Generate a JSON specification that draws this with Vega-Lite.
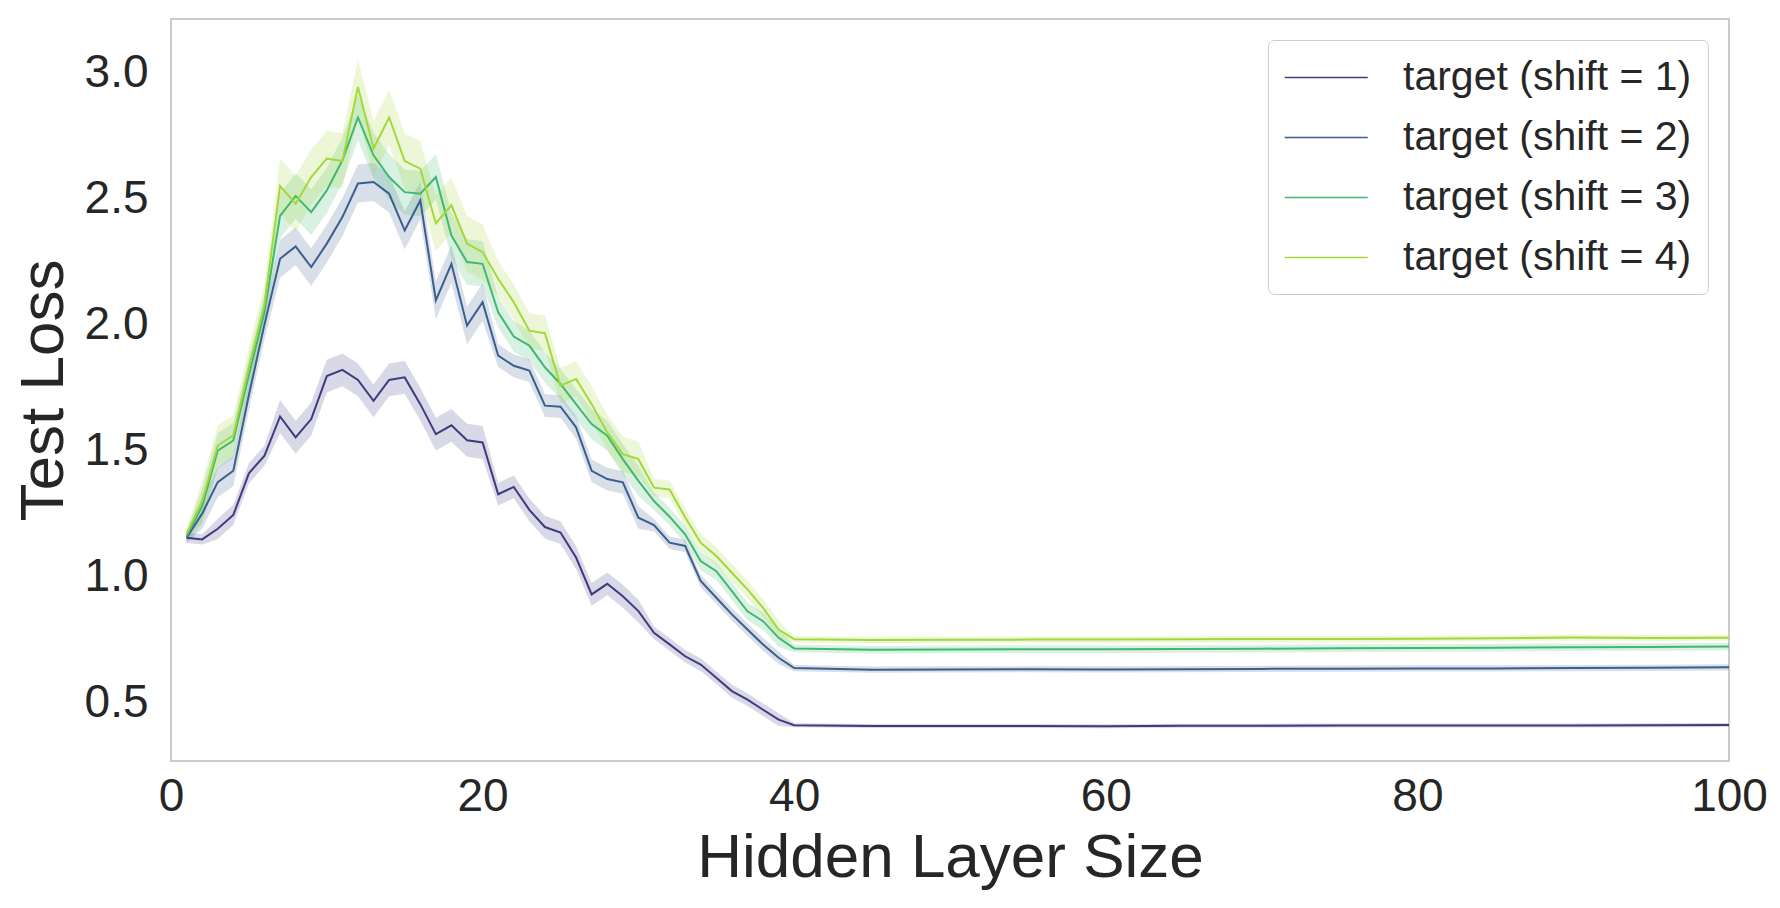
{
  "$schema": "https://vega.github.io/schema/vega-lite/v6.json",
  "width": 1558,
  "height": 742,
  "autosize": {"type": "none"},
  "padding": {"left": 171, "top": 19, "right": 51, "bottom": 147},
  "background": "#ffffff",
  "config": {
    "view": {"stroke": "#cccccc", "strokeWidth": 2},
    "axis": {
      "grid": false, "domain": false, "ticks": false, "labelFlush": false,
      "labelFont": "Liberation Sans", "titleFont": "Liberation Sans",
      "labelColor": "#262626", "titleColor": "#262626",
      "labelFontSize": 46, "titleFontSize": 62, "titleFontWeight": "normal"
    }
  },
  "data": {"values": [
    {"size": 1, "series": "target (shift = 1)", "loss": 1.155, "lo": 1.135, "hi": 1.175},
    {"size": 2, "series": "target (shift = 1)", "loss": 1.148, "lo": 1.128, "hi": 1.168},
    {"size": 3, "series": "target (shift = 1)", "loss": 1.19, "lo": 1.15, "hi": 1.23},
    {"size": 4, "series": "target (shift = 1)", "loss": 1.245, "lo": 1.205, "hi": 1.285},
    {"size": 5, "series": "target (shift = 1)", "loss": 1.41, "lo": 1.37, "hi": 1.45},
    {"size": 6, "series": "target (shift = 1)", "loss": 1.48, "lo": 1.44, "hi": 1.52},
    {"size": 7, "series": "target (shift = 1)", "loss": 1.635, "lo": 1.57, "hi": 1.70},
    {"size": 8, "series": "target (shift = 1)", "loss": 1.552, "lo": 1.487, "hi": 1.617},
    {"size": 9, "series": "target (shift = 1)", "loss": 1.625, "lo": 1.56, "hi": 1.69},
    {"size": 10, "series": "target (shift = 1)", "loss": 1.795, "lo": 1.73, "hi": 1.86},
    {"size": 11, "series": "target (shift = 1)", "loss": 1.82, "lo": 1.755, "hi": 1.885},
    {"size": 12, "series": "target (shift = 1)", "loss": 1.78, "lo": 1.715, "hi": 1.845},
    {"size": 13, "series": "target (shift = 1)", "loss": 1.697, "lo": 1.632, "hi": 1.762},
    {"size": 14, "series": "target (shift = 1)", "loss": 1.78, "lo": 1.715, "hi": 1.845},
    {"size": 15, "series": "target (shift = 1)", "loss": 1.79, "lo": 1.725, "hi": 1.855},
    {"size": 16, "series": "target (shift = 1)", "loss": 1.684, "lo": 1.619, "hi": 1.749},
    {"size": 17, "series": "target (shift = 1)", "loss": 1.565, "lo": 1.50, "hi": 1.63},
    {"size": 18, "series": "target (shift = 1)", "loss": 1.60, "lo": 1.535, "hi": 1.665},
    {"size": 19, "series": "target (shift = 1)", "loss": 1.541, "lo": 1.476, "hi": 1.606},
    {"size": 20, "series": "target (shift = 1)", "loss": 1.532, "lo": 1.467, "hi": 1.597},
    {"size": 21, "series": "target (shift = 1)", "loss": 1.327, "lo": 1.282, "hi": 1.372},
    {"size": 22, "series": "target (shift = 1)", "loss": 1.356, "lo": 1.311, "hi": 1.401},
    {"size": 23, "series": "target (shift = 1)", "loss": 1.265, "lo": 1.22, "hi": 1.31},
    {"size": 24, "series": "target (shift = 1)", "loss": 1.197, "lo": 1.152, "hi": 1.242},
    {"size": 25, "series": "target (shift = 1)", "loss": 1.175, "lo": 1.13, "hi": 1.22},
    {"size": 26, "series": "target (shift = 1)", "loss": 1.076, "lo": 1.031, "hi": 1.121},
    {"size": 27, "series": "target (shift = 1)", "loss": 0.93, "lo": 0.885, "hi": 0.975},
    {"size": 28, "series": "target (shift = 1)", "loss": 0.972, "lo": 0.927, "hi": 1.017},
    {"size": 29, "series": "target (shift = 1)", "loss": 0.923, "lo": 0.878, "hi": 0.968},
    {"size": 30, "series": "target (shift = 1)", "loss": 0.864, "lo": 0.819, "hi": 0.909},
    {"size": 31, "series": "target (shift = 1)", "loss": 0.778, "lo": 0.753, "hi": 0.803},
    {"size": 32, "series": "target (shift = 1)", "loss": 0.732, "lo": 0.707, "hi": 0.757},
    {"size": 33, "series": "target (shift = 1)", "loss": 0.685, "lo": 0.66, "hi": 0.71},
    {"size": 34, "series": "target (shift = 1)", "loss": 0.652, "lo": 0.627, "hi": 0.677},
    {"size": 35, "series": "target (shift = 1)", "loss": 0.60, "lo": 0.575, "hi": 0.625},
    {"size": 36, "series": "target (shift = 1)", "loss": 0.547, "lo": 0.522, "hi": 0.572},
    {"size": 37, "series": "target (shift = 1)", "loss": 0.513, "lo": 0.488, "hi": 0.538},
    {"size": 38, "series": "target (shift = 1)", "loss": 0.473, "lo": 0.448, "hi": 0.498},
    {"size": 39, "series": "target (shift = 1)", "loss": 0.434, "lo": 0.409, "hi": 0.459},
    {"size": 40, "series": "target (shift = 1)", "loss": 0.412, "lo": 0.404, "hi": 0.42},
    {"size": 45, "series": "target (shift = 1)", "loss": 0.409, "lo": 0.401, "hi": 0.417},
    {"size": 50, "series": "target (shift = 1)", "loss": 0.409, "lo": 0.401, "hi": 0.417},
    {"size": 55, "series": "target (shift = 1)", "loss": 0.409, "lo": 0.401, "hi": 0.417},
    {"size": 60, "series": "target (shift = 1)", "loss": 0.408, "lo": 0.400, "hi": 0.416},
    {"size": 65, "series": "target (shift = 1)", "loss": 0.410, "lo": 0.402, "hi": 0.418},
    {"size": 70, "series": "target (shift = 1)", "loss": 0.410, "lo": 0.402, "hi": 0.418},
    {"size": 75, "series": "target (shift = 1)", "loss": 0.411, "lo": 0.403, "hi": 0.419},
    {"size": 80, "series": "target (shift = 1)", "loss": 0.411, "lo": 0.403, "hi": 0.419},
    {"size": 85, "series": "target (shift = 1)", "loss": 0.411, "lo": 0.403, "hi": 0.419},
    {"size": 90, "series": "target (shift = 1)", "loss": 0.411, "lo": 0.403, "hi": 0.419},
    {"size": 95, "series": "target (shift = 1)", "loss": 0.412, "lo": 0.404, "hi": 0.420},
    {"size": 100, "series": "target (shift = 1)", "loss": 0.413, "lo": 0.405, "hi": 0.421},

    {"size": 1, "series": "target (shift = 2)", "loss": 1.155, "lo": 1.135, "hi": 1.175},
    {"size": 2, "series": "target (shift = 2)", "loss": 1.25, "lo": 1.19, "hi": 1.31},
    {"size": 3, "series": "target (shift = 2)", "loss": 1.375, "lo": 1.315, "hi": 1.435},
    {"size": 4, "series": "target (shift = 2)", "loss": 1.42, "lo": 1.36, "hi": 1.48},
    {"size": 5, "series": "target (shift = 2)", "loss": 1.72, "lo": 1.66, "hi": 1.78},
    {"size": 6, "series": "target (shift = 2)", "loss": 2.0, "lo": 1.94, "hi": 2.06},
    {"size": 7, "series": "target (shift = 2)", "loss": 2.26, "lo": 2.185, "hi": 2.335},
    {"size": 8, "series": "target (shift = 2)", "loss": 2.309, "lo": 2.234, "hi": 2.384},
    {"size": 9, "series": "target (shift = 2)", "loss": 2.227, "lo": 2.152, "hi": 2.302},
    {"size": 10, "series": "target (shift = 2)", "loss": 2.32, "lo": 2.245, "hi": 2.395},
    {"size": 11, "series": "target (shift = 2)", "loss": 2.425, "lo": 2.35, "hi": 2.50},
    {"size": 12, "series": "target (shift = 2)", "loss": 2.558, "lo": 2.483, "hi": 2.633},
    {"size": 13, "series": "target (shift = 2)", "loss": 2.564, "lo": 2.489, "hi": 2.639},
    {"size": 14, "series": "target (shift = 2)", "loss": 2.518, "lo": 2.443, "hi": 2.593},
    {"size": 15, "series": "target (shift = 2)", "loss": 2.372, "lo": 2.297, "hi": 2.447},
    {"size": 16, "series": "target (shift = 2)", "loss": 2.491, "lo": 2.416, "hi": 2.566},
    {"size": 17, "series": "target (shift = 2)", "loss": 2.095, "lo": 2.02, "hi": 2.17},
    {"size": 18, "series": "target (shift = 2)", "loss": 2.24, "lo": 2.165, "hi": 2.315},
    {"size": 19, "series": "target (shift = 2)", "loss": 1.995, "lo": 1.92, "hi": 2.07},
    {"size": 20, "series": "target (shift = 2)", "loss": 2.088, "lo": 2.013, "hi": 2.163},
    {"size": 21, "series": "target (shift = 2)", "loss": 1.876, "lo": 1.831, "hi": 1.921},
    {"size": 22, "series": "target (shift = 2)", "loss": 1.836, "lo": 1.791, "hi": 1.881},
    {"size": 23, "series": "target (shift = 2)", "loss": 1.817, "lo": 1.772, "hi": 1.862},
    {"size": 24, "series": "target (shift = 2)", "loss": 1.678, "lo": 1.633, "hi": 1.723},
    {"size": 25, "series": "target (shift = 2)", "loss": 1.674, "lo": 1.629, "hi": 1.719},
    {"size": 26, "series": "target (shift = 2)", "loss": 1.592, "lo": 1.547, "hi": 1.637},
    {"size": 27, "series": "target (shift = 2)", "loss": 1.42, "lo": 1.375, "hi": 1.465},
    {"size": 28, "series": "target (shift = 2)", "loss": 1.387, "lo": 1.342, "hi": 1.432},
    {"size": 29, "series": "target (shift = 2)", "loss": 1.374, "lo": 1.329, "hi": 1.419},
    {"size": 30, "series": "target (shift = 2)", "loss": 1.234, "lo": 1.189, "hi": 1.279},
    {"size": 31, "series": "target (shift = 2)", "loss": 1.205, "lo": 1.18, "hi": 1.23},
    {"size": 32, "series": "target (shift = 2)", "loss": 1.135, "lo": 1.11, "hi": 1.16},
    {"size": 33, "series": "target (shift = 2)", "loss": 1.122, "lo": 1.097, "hi": 1.147},
    {"size": 34, "series": "target (shift = 2)", "loss": 0.983, "lo": 0.958, "hi": 1.008},
    {"size": 35, "series": "target (shift = 2)", "loss": 0.917, "lo": 0.892, "hi": 0.942},
    {"size": 36, "series": "target (shift = 2)", "loss": 0.851, "lo": 0.826, "hi": 0.876},
    {"size": 37, "series": "target (shift = 2)", "loss": 0.791, "lo": 0.766, "hi": 0.816},
    {"size": 38, "series": "target (shift = 2)", "loss": 0.732, "lo": 0.707, "hi": 0.757},
    {"size": 39, "series": "target (shift = 2)", "loss": 0.679, "lo": 0.654, "hi": 0.704},
    {"size": 40, "series": "target (shift = 2)", "loss": 0.638, "lo": 0.626, "hi": 0.65},
    {"size": 45, "series": "target (shift = 2)", "loss": 0.632, "lo": 0.62, "hi": 0.644},
    {"size": 50, "series": "target (shift = 2)", "loss": 0.633, "lo": 0.621, "hi": 0.645},
    {"size": 55, "series": "target (shift = 2)", "loss": 0.634, "lo": 0.622, "hi": 0.646},
    {"size": 60, "series": "target (shift = 2)", "loss": 0.633, "lo": 0.621, "hi": 0.645},
    {"size": 65, "series": "target (shift = 2)", "loss": 0.634, "lo": 0.622, "hi": 0.646},
    {"size": 70, "series": "target (shift = 2)", "loss": 0.635, "lo": 0.623, "hi": 0.647},
    {"size": 75, "series": "target (shift = 2)", "loss": 0.636, "lo": 0.624, "hi": 0.648},
    {"size": 80, "series": "target (shift = 2)", "loss": 0.637, "lo": 0.625, "hi": 0.649},
    {"size": 85, "series": "target (shift = 2)", "loss": 0.637, "lo": 0.625, "hi": 0.649},
    {"size": 90, "series": "target (shift = 2)", "loss": 0.638, "lo": 0.626, "hi": 0.65},
    {"size": 95, "series": "target (shift = 2)", "loss": 0.639, "lo": 0.627, "hi": 0.651},
    {"size": 100, "series": "target (shift = 2)", "loss": 0.641, "lo": 0.629, "hi": 0.653},

    {"size": 1, "series": "target (shift = 3)", "loss": 1.16, "lo": 1.14, "hi": 1.18},
    {"size": 2, "series": "target (shift = 3)", "loss": 1.28, "lo": 1.21, "hi": 1.35},
    {"size": 3, "series": "target (shift = 3)", "loss": 1.50, "lo": 1.43, "hi": 1.57},
    {"size": 4, "series": "target (shift = 3)", "loss": 1.54, "lo": 1.47, "hi": 1.61},
    {"size": 5, "series": "target (shift = 3)", "loss": 1.80, "lo": 1.73, "hi": 1.87},
    {"size": 6, "series": "target (shift = 3)", "loss": 2.05, "lo": 1.98, "hi": 2.12},
    {"size": 7, "series": "target (shift = 3)", "loss": 2.43, "lo": 2.34, "hi": 2.52},
    {"size": 8, "series": "target (shift = 3)", "loss": 2.509, "lo": 2.419, "hi": 2.599},
    {"size": 9, "series": "target (shift = 3)", "loss": 2.445, "lo": 2.355, "hi": 2.535},
    {"size": 10, "series": "target (shift = 3)", "loss": 2.531, "lo": 2.441, "hi": 2.621},
    {"size": 11, "series": "target (shift = 3)", "loss": 2.65, "lo": 2.56, "hi": 2.74},
    {"size": 12, "series": "target (shift = 3)", "loss": 2.82, "lo": 2.73, "hi": 2.91},
    {"size": 13, "series": "target (shift = 3)", "loss": 2.67, "lo": 2.58, "hi": 2.76},
    {"size": 14, "series": "target (shift = 3)", "loss": 2.584, "lo": 2.494, "hi": 2.674},
    {"size": 15, "series": "target (shift = 3)", "loss": 2.524, "lo": 2.434, "hi": 2.614},
    {"size": 16, "series": "target (shift = 3)", "loss": 2.518, "lo": 2.428, "hi": 2.608},
    {"size": 17, "series": "target (shift = 3)", "loss": 2.584, "lo": 2.494, "hi": 2.674},
    {"size": 18, "series": "target (shift = 3)", "loss": 2.352, "lo": 2.262, "hi": 2.442},
    {"size": 19, "series": "target (shift = 3)", "loss": 2.247, "lo": 2.157, "hi": 2.337},
    {"size": 20, "series": "target (shift = 3)", "loss": 2.24, "lo": 2.15, "hi": 2.33},
    {"size": 21, "series": "target (shift = 3)", "loss": 2.048, "lo": 1.988, "hi": 2.108},
    {"size": 22, "series": "target (shift = 3)", "loss": 1.952, "lo": 1.892, "hi": 2.012},
    {"size": 23, "series": "target (shift = 3)", "loss": 1.916, "lo": 1.856, "hi": 1.976},
    {"size": 24, "series": "target (shift = 3)", "loss": 1.83, "lo": 1.77, "hi": 1.89},
    {"size": 25, "series": "target (shift = 3)", "loss": 1.764, "lo": 1.704, "hi": 1.824},
    {"size": 26, "series": "target (shift = 3)", "loss": 1.684, "lo": 1.624, "hi": 1.744},
    {"size": 27, "series": "target (shift = 3)", "loss": 1.605, "lo": 1.545, "hi": 1.665},
    {"size": 28, "series": "target (shift = 3)", "loss": 1.559, "lo": 1.499, "hi": 1.619},
    {"size": 29, "series": "target (shift = 3)", "loss": 1.466, "lo": 1.406, "hi": 1.526},
    {"size": 30, "series": "target (shift = 3)", "loss": 1.38, "lo": 1.32, "hi": 1.44},
    {"size": 31, "series": "target (shift = 3)", "loss": 1.30, "lo": 1.265, "hi": 1.335},
    {"size": 32, "series": "target (shift = 3)", "loss": 1.238, "lo": 1.203, "hi": 1.273},
    {"size": 33, "series": "target (shift = 3)", "loss": 1.168, "lo": 1.133, "hi": 1.203},
    {"size": 34, "series": "target (shift = 3)", "loss": 1.062, "lo": 1.027, "hi": 1.097},
    {"size": 35, "series": "target (shift = 3)", "loss": 1.022, "lo": 0.987, "hi": 1.057},
    {"size": 36, "series": "target (shift = 3)", "loss": 0.943, "lo": 0.908, "hi": 0.978},
    {"size": 37, "series": "target (shift = 3)", "loss": 0.863, "lo": 0.828, "hi": 0.898},
    {"size": 38, "series": "target (shift = 3)", "loss": 0.824, "lo": 0.789, "hi": 0.859},
    {"size": 39, "series": "target (shift = 3)", "loss": 0.758, "lo": 0.723, "hi": 0.793},
    {"size": 40, "series": "target (shift = 3)", "loss": 0.716, "lo": 0.701, "hi": 0.731},
    {"size": 45, "series": "target (shift = 3)", "loss": 0.711, "lo": 0.696, "hi": 0.726},
    {"size": 50, "series": "target (shift = 3)", "loss": 0.712, "lo": 0.697, "hi": 0.727},
    {"size": 55, "series": "target (shift = 3)", "loss": 0.713, "lo": 0.698, "hi": 0.728},
    {"size": 60, "series": "target (shift = 3)", "loss": 0.713, "lo": 0.698, "hi": 0.728},
    {"size": 65, "series": "target (shift = 3)", "loss": 0.714, "lo": 0.699, "hi": 0.729},
    {"size": 70, "series": "target (shift = 3)", "loss": 0.715, "lo": 0.70, "hi": 0.73},
    {"size": 75, "series": "target (shift = 3)", "loss": 0.717, "lo": 0.702, "hi": 0.732},
    {"size": 80, "series": "target (shift = 3)", "loss": 0.718, "lo": 0.703, "hi": 0.733},
    {"size": 85, "series": "target (shift = 3)", "loss": 0.719, "lo": 0.704, "hi": 0.734},
    {"size": 90, "series": "target (shift = 3)", "loss": 0.721, "lo": 0.706, "hi": 0.736},
    {"size": 95, "series": "target (shift = 3)", "loss": 0.722, "lo": 0.707, "hi": 0.737},
    {"size": 100, "series": "target (shift = 3)", "loss": 0.724, "lo": 0.709, "hi": 0.739},

    {"size": 1, "series": "target (shift = 4)", "loss": 1.17, "lo": 1.15, "hi": 1.19},
    {"size": 2, "series": "target (shift = 4)", "loss": 1.30, "lo": 1.22, "hi": 1.38},
    {"size": 3, "series": "target (shift = 4)", "loss": 1.52, "lo": 1.44, "hi": 1.60},
    {"size": 4, "series": "target (shift = 4)", "loss": 1.56, "lo": 1.48, "hi": 1.64},
    {"size": 5, "series": "target (shift = 4)", "loss": 1.83, "lo": 1.75, "hi": 1.91},
    {"size": 6, "series": "target (shift = 4)", "loss": 2.08, "lo": 2.00, "hi": 2.16},
    {"size": 7, "series": "target (shift = 4)", "loss": 2.548, "lo": 2.438, "hi": 2.658},
    {"size": 8, "series": "target (shift = 4)", "loss": 2.478, "lo": 2.368, "hi": 2.588},
    {"size": 9, "series": "target (shift = 4)", "loss": 2.584, "lo": 2.474, "hi": 2.694},
    {"size": 10, "series": "target (shift = 4)", "loss": 2.657, "lo": 2.547, "hi": 2.767},
    {"size": 11, "series": "target (shift = 4)", "loss": 2.647, "lo": 2.537, "hi": 2.757},
    {"size": 12, "series": "target (shift = 4)", "loss": 2.941, "lo": 2.831, "hi": 3.051},
    {"size": 13, "series": "target (shift = 4)", "loss": 2.697, "lo": 2.587, "hi": 2.807},
    {"size": 14, "series": "target (shift = 4)", "loss": 2.82, "lo": 2.71, "hi": 2.93},
    {"size": 15, "series": "target (shift = 4)", "loss": 2.647, "lo": 2.537, "hi": 2.757},
    {"size": 16, "series": "target (shift = 4)", "loss": 2.617, "lo": 2.507, "hi": 2.727},
    {"size": 17, "series": "target (shift = 4)", "loss": 2.401, "lo": 2.291, "hi": 2.511},
    {"size": 18, "series": "target (shift = 4)", "loss": 2.472, "lo": 2.362, "hi": 2.582},
    {"size": 19, "series": "target (shift = 4)", "loss": 2.32, "lo": 2.21, "hi": 2.43},
    {"size": 20, "series": "target (shift = 4)", "loss": 2.286, "lo": 2.176, "hi": 2.396},
    {"size": 21, "series": "target (shift = 4)", "loss": 2.181, "lo": 2.111, "hi": 2.251},
    {"size": 22, "series": "target (shift = 4)", "loss": 2.088, "lo": 2.018, "hi": 2.158},
    {"size": 23, "series": "target (shift = 4)", "loss": 1.975, "lo": 1.905, "hi": 2.045},
    {"size": 24, "series": "target (shift = 4)", "loss": 1.965, "lo": 1.895, "hi": 2.035},
    {"size": 25, "series": "target (shift = 4)", "loss": 1.757, "lo": 1.687, "hi": 1.827},
    {"size": 26, "series": "target (shift = 4)", "loss": 1.784, "lo": 1.714, "hi": 1.854},
    {"size": 27, "series": "target (shift = 4)", "loss": 1.684, "lo": 1.614, "hi": 1.754},
    {"size": 28, "series": "target (shift = 4)", "loss": 1.572, "lo": 1.502, "hi": 1.642},
    {"size": 29, "series": "target (shift = 4)", "loss": 1.486, "lo": 1.416, "hi": 1.556},
    {"size": 30, "series": "target (shift = 4)", "loss": 1.466, "lo": 1.396, "hi": 1.536},
    {"size": 31, "series": "target (shift = 4)", "loss": 1.353, "lo": 1.318, "hi": 1.388},
    {"size": 32, "series": "target (shift = 4)", "loss": 1.346, "lo": 1.311, "hi": 1.381},
    {"size": 33, "series": "target (shift = 4)", "loss": 1.236, "lo": 1.201, "hi": 1.271},
    {"size": 34, "series": "target (shift = 4)", "loss": 1.135, "lo": 1.10, "hi": 1.17},
    {"size": 35, "series": "target (shift = 4)", "loss": 1.082, "lo": 1.047, "hi": 1.117},
    {"size": 36, "series": "target (shift = 4)", "loss": 1.016, "lo": 0.981, "hi": 1.051},
    {"size": 37, "series": "target (shift = 4)", "loss": 0.95, "lo": 0.915, "hi": 0.985},
    {"size": 38, "series": "target (shift = 4)", "loss": 0.877, "lo": 0.842, "hi": 0.912},
    {"size": 39, "series": "target (shift = 4)", "loss": 0.791, "lo": 0.756, "hi": 0.826},
    {"size": 40, "series": "target (shift = 4)", "loss": 0.752, "lo": 0.74, "hi": 0.764},
    {"size": 45, "series": "target (shift = 4)", "loss": 0.749, "lo": 0.737, "hi": 0.761},
    {"size": 50, "series": "target (shift = 4)", "loss": 0.750, "lo": 0.738, "hi": 0.762},
    {"size": 55, "series": "target (shift = 4)", "loss": 0.751, "lo": 0.739, "hi": 0.763},
    {"size": 60, "series": "target (shift = 4)", "loss": 0.751, "lo": 0.739, "hi": 0.763},
    {"size": 65, "series": "target (shift = 4)", "loss": 0.752, "lo": 0.74, "hi": 0.764},
    {"size": 70, "series": "target (shift = 4)", "loss": 0.753, "lo": 0.741, "hi": 0.765},
    {"size": 75, "series": "target (shift = 4)", "loss": 0.753, "lo": 0.741, "hi": 0.765},
    {"size": 80, "series": "target (shift = 4)", "loss": 0.754, "lo": 0.742, "hi": 0.766},
    {"size": 85, "series": "target (shift = 4)", "loss": 0.756, "lo": 0.744, "hi": 0.768},
    {"size": 90, "series": "target (shift = 4)", "loss": 0.759, "lo": 0.747, "hi": 0.771},
    {"size": 95, "series": "target (shift = 4)", "loss": 0.757, "lo": 0.745, "hi": 0.769},
    {"size": 100, "series": "target (shift = 4)", "loss": 0.758, "lo": 0.746, "hi": 0.77}
  ]},
  "layer": [
    {
      "mark": {"type": "area", "fillOpacity": 0.2},
      "encoding": {
        "x": {"field": "size", "type": "quantitative", "scale": {"domain": [0, 100], "nice": false}},
        "y": {"field": "lo", "type": "quantitative", "scale": {"domain": [0.27, 3.21], "nice": false, "zero": false}},
        "y2": {"field": "hi"},
        "color": {
          "field": "series",
          "type": "nominal",
          "scale": {
            "domain": ["target (shift = 1)", "target (shift = 2)", "target (shift = 3)", "target (shift = 4)"],
            "range": ["#403a80", "#3a5f8f", "#40b86f", "#a3d83a"]
          }
        }
      }
    },
    {
      "mark": {"type": "line", "strokeWidth": 2},
      "encoding": {
        "x": {
          "field": "size",
          "type": "quantitative",
          "title": "Hidden Layer Size",
          "axis": {"values": [0, 20, 40, 60, 80, 100], "labelPadding": 13, "titlePadding": 8}
        },
        "y": {
          "field": "loss",
          "type": "quantitative",
          "title": "Test Loss",
          "axis": {"values": [0.5, 1.0, 1.5, 2.0, 2.5, 3.0], "format": ".1f", "labelPadding": 23, "titlePadding": 9}
        },
        "color": {
          "field": "series",
          "type": "nominal",
          "legend": {
            "title": null,
            "orient": "top-right",
            "offset": 21,
            "padding": 16,
            "fillColor": "#ffffff",
            "strokeColor": "#cccccc",
            "cornerRadius": 6,
            "labelFont": "Liberation Sans",
            "labelColor": "#262626",
            "labelFontSize": 41,
            "labelLimit": 0,
            "labelOffset": 76,
            "rowPadding": 18,
            "symbolType": "M-1,0H3",
            "symbolSize": 1722,
            "symbolStrokeWidth": 1.5,
            "symbolOpacity": 1
          }
        }
      }
    }
  ]
}
